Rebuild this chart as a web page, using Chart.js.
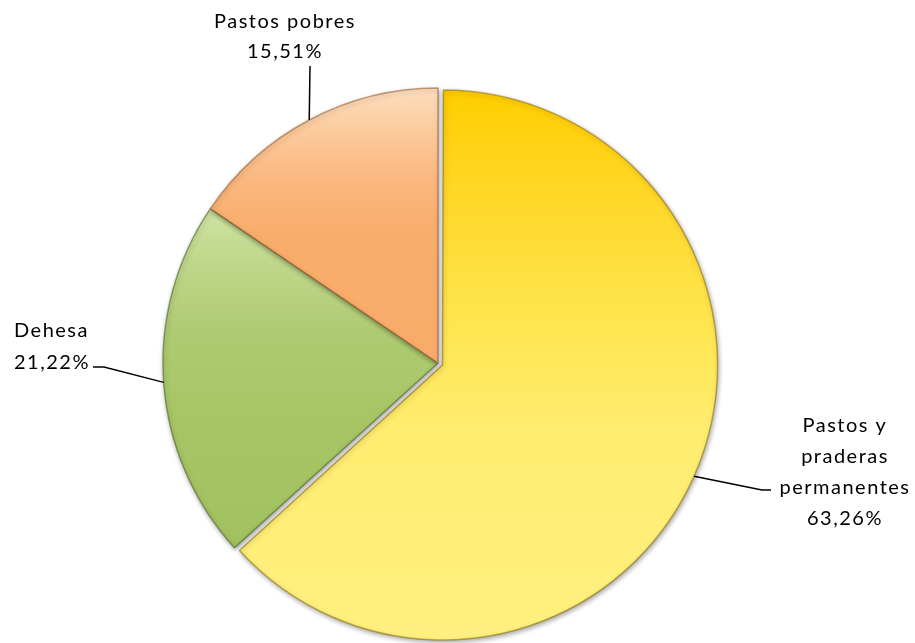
<!DOCTYPE html>
<html>
<head>
<meta charset="utf-8">
<script src="https://cdn.jsdelivr.net/npm/chart.js@4"></script>
<style>
  html, body { margin: 0; padding: 0; background: #fff; }
  #wrap { width: 915px; height: 643px; }
</style>
</head>
<body>
<div id="wrap"><canvas id="pieChart"></canvas></div>
<script>
// Data
const categories = ['Pastos y praderas permanentes', 'Dehesa', 'Pastos pobres'];
const shares = [63.26, 21.22, 15.51];

// label text lines per slice (name broken as in the original)
const labelLines = [['Pastos y', 'praderas', 'permanentes'], ['Dehesa'], ['Pastos pobres']];

// where the labels sit and how the leader lines bend
const labelLayout = [
    { x: 845, y: 426, step: 31, align: 'center', elbow: [762, 490], end: [771, 490] },
    { x: 14, y: 331, step: 32, align: 'left', elbow: [104, 367], end: [93, 367] },
    { x: 285, y: 22, step: 30, align: 'center', elbow: null, end: [310, 66] }
];

const RADIUS = 275;
const EXPLODE = 20; // chart.js moves the slice by offset / 4

function fmtPct(v) {
    return v.toFixed(2).replace('.', ',') + '%';
}

// vertical gradient over the whole pie height
function sliceGradient(context, stops) {
    const chart = context.chart;
    const area = chart.chartArea;
    if (!area) return stops[0][1];
    const cy = (area.top + area.bottom) / 2;
    const g = chart.ctx.createLinearGradient(0, cy - RADIUS, 0, cy + RADIUS);
    stops.forEach(s => g.addColorStop(s[0], s[1]));
    return g;
}

const gradientStops = [
    [[0, '#FFCD00'], [0.2, '#FFD829'], [0.42, '#FFE54E'], [0.62, '#FFED70'], [1, '#FFF080']],
    [[0, '#DDEBB8'], [0.22, '#D0E4A4'], [0.31, '#C0D78C'], [0.44, '#AFCB72'], [0.58, '#A8C666'], [1, '#9DBD5A']],
    [[0, '#FDDDBE'], [0.08, '#FCCA9C'], [0.17, '#FBB77E'], [0.26, '#F9AD6C'], [1, '#F9A964']]
];
const edgeColors = ['rgba(140,110,0,0.55)', 'rgba(80,105,40,0.6)', 'rgba(150,90,40,0.55)'];

// keep the exploded slice the same size as the others
const explodeFix = {
    id: 'explodeFix',
    beforeDatasetsDraw(chart) {
        const meta = chart.getDatasetMeta(0);
        meta.data.forEach(arc => {
            const shift = (arc.options.offset || 0) / 4;
            arc.outerRadius = meta.controller.outerRadius - shift;
        });
    }
};

// soft shadow under slices
const shadowPlugin = {
    id: 'shadow',
    beforeDatasetsDraw(chart) {
        const ctx = chart.ctx;
        ctx.save();
        ctx.shadowColor = 'rgba(0,0,0,0.35)';
        ctx.shadowBlur = 5;
        ctx.shadowOffsetX = 1;
        ctx.shadowOffsetY = 2;
    },
    afterDatasetsDraw(chart) {
        chart.ctx.restore();
    }
};

// labels with leader lines
const labelPlugin = {
    id: 'pieLabels',
    afterDraw(chart) {
        const ctx = chart.ctx;
        const meta = chart.getDatasetMeta(0);
        const r = meta.controller.outerRadius;
        ctx.save();
        meta.data.forEach((arc, i) => {
            const lay = labelLayout[i];
            const mid = (arc.startAngle + arc.endAngle) / 2;
            const shift = (arc.options.offset || 0) / 4;
            const sx = arc.x + Math.cos(mid) * (r + shift);
            const sy = arc.y + Math.sin(mid) * (r + shift);

            ctx.strokeStyle = '#000';
            ctx.lineWidth = 1.5;
            ctx.beginPath();
            ctx.moveTo(sx, sy);
            if (lay.elbow) ctx.lineTo(lay.elbow[0], lay.elbow[1]);
            ctx.lineTo(lay.end[0], lay.end[1]);
            ctx.stroke();

            const lines = labelLines[i].concat([fmtPct(shares[i])]);
            ctx.fillStyle = '#000';
            ctx.font = '20px Lato';
            ctx.letterSpacing = '1.5px';
            ctx.textAlign = lay.align;
            ctx.textBaseline = 'middle';
            lines.forEach((t, k) => ctx.fillText(t, lay.x, lay.y + k * lay.step));
        });
        ctx.restore();
    }
};

new Chart(document.getElementById('pieChart'), {
    type: 'pie',
    data: {
        labels: categories,
        datasets: [{
            data: shares,
            backgroundColor: ctx => sliceGradient(ctx, gradientStops[ctx.dataIndex]),
            borderColor: edgeColors,
            borderWidth: 1.5,
            offset: [EXPLODE, 0, 0],
            hoverOffset: 0
        }]
    },
    options: {
        responsive: true,
        maintainAspectRatio: false,
        animation: false,
        radius: RADIUS,
        layout: { padding: { left: 0, right: 39, top: 83, bottom: 0 } },
        plugins: {
            legend: { display: false },
            tooltip: { enabled: false }
        }
    },
    plugins: [explodeFix, shadowPlugin, labelPlugin]
});
</script>
</body>
</html>
